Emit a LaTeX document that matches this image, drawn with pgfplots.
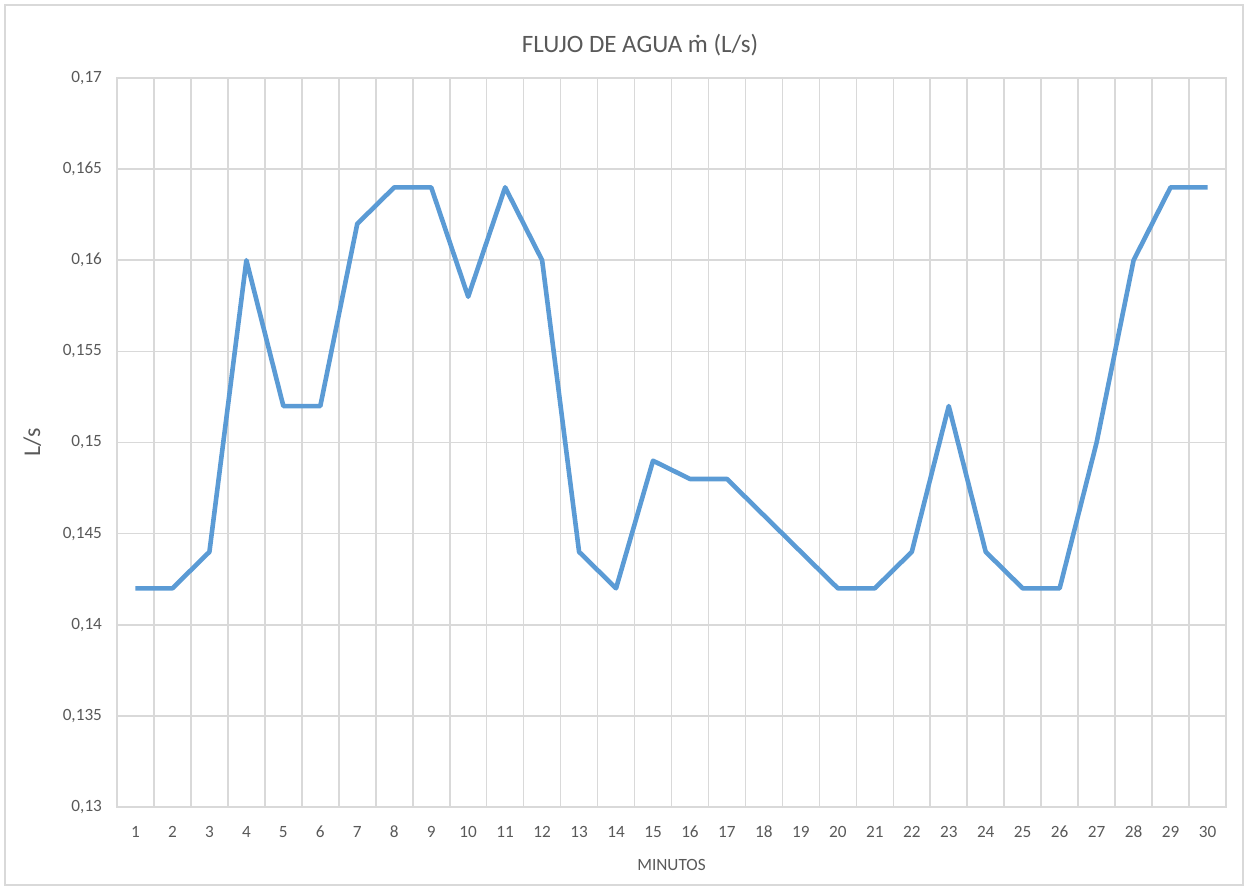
\documentclass[border=0pt]{standalone}
\usepackage{fontspec}
\setmainfont{Carlito}
\usepackage{pgfplots}
\pgfplotsset{compat=1.18}
\definecolor{linec}{HTML}{5B9BD5}
\definecolor{gridc}{HTML}{D9D9D9}
\definecolor{txtc}{HTML}{595959}
\begin{document}
\begin{tikzpicture}[x=0.5pt,y=0.5pt]
\useasboundingbox (-117,-83) rectangle (1131,807);
\draw[gridc, line width=0.8pt] (-112,-78) rectangle (1126,802);
\begin{axis}[
  at={(0,0)}, anchor=south west,
  scale only axis, width=554.5pt, height=364.5pt,
  xmin=0.5, xmax=30.5, ymin=0.13, ymax=0.17,
  xtick={1,...,30},
  minor xtick={0.5,1.5,...,30.5},
  ytick={0.13,0.135,...,0.1701},
  xmajorgrids=false, xminorgrids=true, ymajorgrids=true,
  grid style={gridc, line width=0.8pt},
  minor grid style={gridc, line width=0.8pt},
  axis line style={gridc, line width=0.8pt},
  major tick length=0pt, minor tick length=0pt,
  /pgf/number format/assume math mode=true,
  /pgf/number format/use comma,
  /pgf/number format/fixed,
  /pgf/number format/precision=3,
  ticklabel style={font=\fontsize{8.6}{10}\selectfont, text=txtc},
  yticklabel style={xshift=-4pt},
  xticklabel style={yshift=-6pt},
  xlabel={MINUTOS},
  xlabel style={font=\fontsize{8.6}{10}\selectfont, text=txtc, yshift=-4pt},
  ylabel={L/s},
  ylabel style={font=\fontsize{12}{14}\selectfont, text=txtc, yshift=4pt},
  clip=false,
]
\addplot[linec, line width=2.3pt, line join=round] coordinates {
(1,0.142) (2,0.142) (3,0.144) (4,0.160) (5,0.152) (6,0.152) (7,0.162) (8,0.164) (9,0.164) (10,0.158)
(11,0.164) (12,0.160) (13,0.144) (14,0.142) (15,0.149) (16,0.148) (17,0.148) (18,0.146) (19,0.144) (20,0.142)
(21,0.142) (22,0.144) (23,0.152) (24,0.144) (25,0.142) (26,0.142) (27,0.150) (28,0.160) (29,0.164) (30,0.164)
};
\end{axis}
\node[text=txtc, font=\fontsize{12.5}{14}\selectfont] at (523,762) {FLUJO DE AGUA ṁ (L/s)};
\end{tikzpicture}
\end{document}
